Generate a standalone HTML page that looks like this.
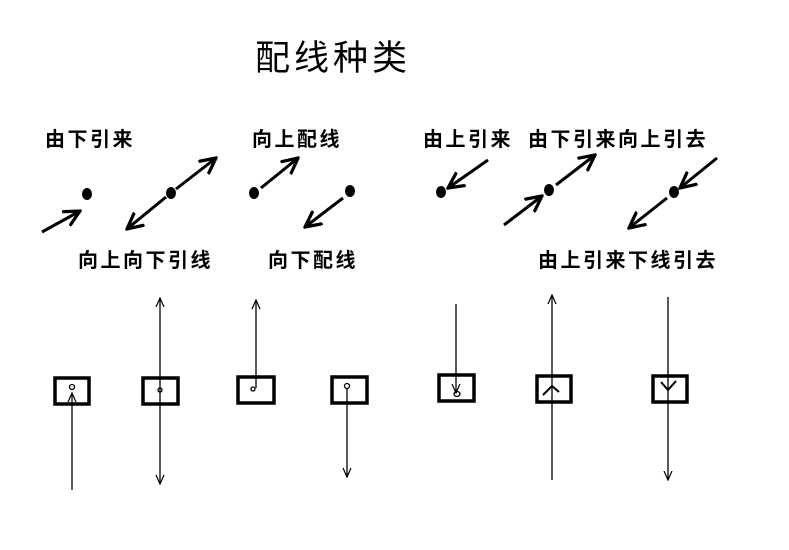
<!DOCTYPE html>
<html><head><meta charset="utf-8"><style>
html,body{margin:0;padding:0;background:#fff;}
svg{display:block;}
text{font-family:"Liberation Sans","Noto Sans CJK SC",sans-serif;fill:#000;}
</style></head><body>
<svg width="789" height="550" viewBox="0 0 789 550" xmlns="http://www.w3.org/2000/svg">
<defs>
<marker id="a" viewBox="0 0 10 10" refX="9" refY="5" markerWidth="6" markerHeight="6" orient="auto" markerUnits="strokeWidth">
<polyline points="0,0.5 9,5 0,9.5" fill="none" stroke="#000" stroke-width="1.8"/>
</marker>
<marker id="t" viewBox="0 0 10 10" refX="9" refY="5" markerWidth="10" markerHeight="10" orient="auto" markerUnits="userSpaceOnUse">
<polyline points="0,1 9,5 0,9" fill="none" stroke="#000" stroke-width="1.2"/>
</marker>
</defs>
<text x="255" y="70" font-size="35" letter-spacing="4">配线种类</text>
<g font-size="20" font-weight="bold" letter-spacing="2.5">
<text x="45" y="146">由下引来</text>
<text x="252" y="146">向上配线</text>
<text x="423" y="146">由上引来</text>
<text x="528" y="146">由下引来向上引去</text>
<text x="78" y="267">向上向下引线</text>
<text x="268" y="267">向下配线</text>
<text x="538" y="267">由上引来下线引去</text>
</g>
<g stroke="#000" stroke-width="3" fill="none" marker-end="url(#a)">
<line x1="42" y1="232" x2="80" y2="211"/>
<line x1="176" y1="189" x2="216" y2="158"/>
<line x1="166" y1="197" x2="127" y2="229"/>
<line x1="261" y1="188" x2="298" y2="158"/>
<line x1="343" y1="198" x2="305" y2="227"/>
<line x1="488" y1="160" x2="448" y2="188"/>
<line x1="504" y1="225" x2="542" y2="196"/>
<line x1="556" y1="185" x2="595" y2="155"/>
<line x1="717" y1="158" x2="680" y2="188"/>
<line x1="667" y1="198" x2="629" y2="228"/>
</g>
<g fill="#000">
<ellipse cx="87" cy="194" rx="5" ry="6"/>
<ellipse cx="171" cy="193" rx="5" ry="6"/>
<ellipse cx="254" cy="193" rx="5" ry="6"/>
<ellipse cx="350" cy="191" rx="5" ry="6"/>
<ellipse cx="441" cy="192" rx="5" ry="6"/>
<ellipse cx="549" cy="190" rx="5" ry="6"/>
<ellipse cx="674" cy="192" rx="5" ry="6"/>
</g>
<g stroke="#000" stroke-width="3.5" fill="none">
<rect x="55" y="378" width="34" height="26"/>
<rect x="143" y="378" width="35" height="26"/>
<rect x="238" y="377" width="36" height="26"/>
<rect x="332" y="377" width="35" height="26"/>
<rect x="439" y="375" width="35" height="26"/>
<rect x="537" y="376" width="34" height="26"/>
<rect x="653" y="376" width="34" height="26"/>
</g>
<g stroke="#000" stroke-width="1.3" fill="none">
<circle cx="72" cy="387" r="2.5"/>
<line x1="72" y1="490" x2="72" y2="393" marker-end="url(#t)"/>
<line x1="160" y1="390" x2="160" y2="298" marker-end="url(#t)"/>
<line x1="160" y1="390" x2="160" y2="484" marker-end="url(#t)"/>
<circle cx="160" cy="390" r="2" />
<line x1="256" y1="388" x2="256" y2="300" marker-end="url(#t)"/>
<circle cx="253" cy="389" r="2"/>
<circle cx="347" cy="386" r="2.5"/>
<line x1="347" y1="389" x2="347" y2="477" marker-end="url(#t)"/>
<line x1="456" y1="304" x2="456" y2="393" marker-end="url(#t)"/>
<ellipse cx="457" cy="394" rx="3" ry="2.5"/>
<line x1="552" y1="480" x2="552" y2="295" marker-end="url(#t)"/>
<polyline points="543,395 552,386 559,392" stroke-width="2"/>
<line x1="668" y1="297" x2="668" y2="480" marker-end="url(#t)"/>
<polyline points="661,382 668,390 676,381" stroke-width="2"/>
</g>
</svg>
</body></html>
